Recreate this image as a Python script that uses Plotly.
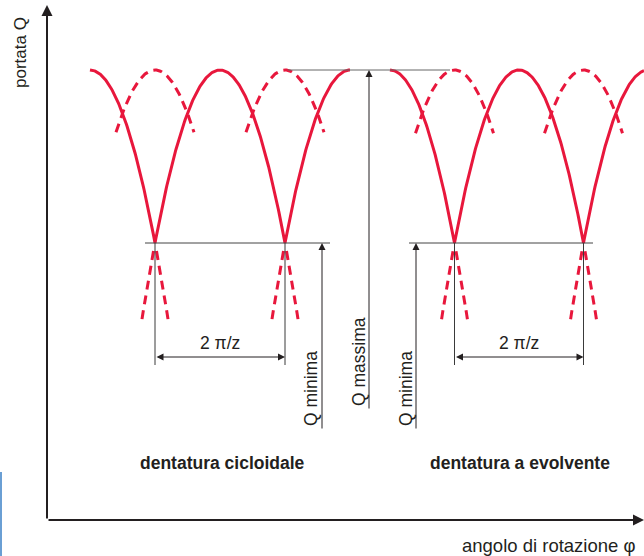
import numpy as np
import plotly.graph_objects as go

# ---- data (plot units: 1 unit of angle / flow, origin at the axes corner) ----
Q_MAX = 450          # portata massima
Q_MIN = 277          # portata minima
cyc_crests = [43, 173, 303]        # crests of the cycloidal delivery curve
cyc_cusps = [108, 238]             # minima (cusps), 2 pi/z apart
evo_crests = [343, 472, 601]       # crests of the involute delivery curve
evo_cusps = [407.5, 536.5]
cyc_range = [43, 303]
evo_range = [343, 597]
top_dash_half = 39                 # half width of dashed single-tooth arcs drawn at top
below_dash = [1.5, 13.5]           # extension of arcs below the minimum line
labels_bottom = ["dentatura cicloidale", "dentatura a evolvente"]

RED = "#e8173c"
INK = "#231f20"
THIN = "#3a3a3a"
FONT = "Liberation Sans, Arial, sans-serif"

X_RANGE = [-47, 597]
Y_RANGE = [-36, 520]


def arch(x, crest, half):
    return Q_MAX - (Q_MAX - Q_MIN) * ((x - crest) / half) ** 2


fig = go.Figure()


def solid_curve(crests, xr):
    half = (crests[1] - crests[0]) / 2.0
    cusps = [(a + b) / 2.0 for a, b in zip(crests[:-1], crests[1:])]
    xs = np.unique(np.concatenate([np.linspace(xr[0], xr[1], 400), cusps]))
    xs = xs[(xs >= xr[0]) & (xs <= xr[1])]
    ys = []
    for x in xs:
        c = min(crests, key=lambda cc: abs(cc - x))
        ys.append(arch(x, c, half))
    fig.add_trace(go.Scatter(x=xs, y=ys, mode="lines",
                             line=dict(color=RED, width=3),
                             hoverinfo="skip", showlegend=False))
    return half


def dashed(xs, ys):
    fig.add_trace(go.Scatter(x=xs, y=ys, mode="lines",
                             line=dict(color=RED, width=3, dash="9px,6px"),
                             hoverinfo="skip", showlegend=False))


for crests, cusps, xr in [(cyc_crests, cyc_cusps, cyc_range),
                          (evo_crests, evo_cusps, evo_range)]:
    half = solid_curve(crests, xr)
    for c in cusps:
        # dashed single-tooth arc on top
        xs = np.linspace(c - top_dash_half, c + top_dash_half, 80)
        dashed(xs, arch(xs, c, half))
        # continuations below the minimum line
        for s in (1, -1):
            t = np.linspace(below_dash[0], below_dash[1], 20)
            crest = c - s * half
            xs = c + s * t
            dashed(xs, arch(xs, crest, half))

shapes = []


def line(x0, y0, x1, y1, color=THIN, width=1):
    shapes.append(dict(type="line", x0=x0, y0=y0, x1=x1, y1=y1,
                       xref="x", yref="y", line=dict(color=color, width=width)))


# reference lines
line(241, Q_MAX, 403, Q_MAX, color="#666666")
line(98, Q_MIN, 283, Q_MIN, color="#444444")
line(362, Q_MIN, 546, Q_MIN, color="#444444")
for c in cyc_cusps + evo_cusps:
    line(c, Q_MIN, c, 155)
# left edge blue mark
line(-46, 48, -46, -36, color="#6a9fd4", width=2)

annotations = []


def arrow(x_head, y_head, x_tail, y_tail, width=1, size=1.3, both=False, color=INK):
    annotations.append(dict(x=x_head, y=y_head, ax=x_tail, ay=y_tail,
                            xref="x", yref="y", axref="x", ayref="y",
                            text="", showarrow=True, arrowhead=2,
                            arrowsize=size, arrowwidth=width, arrowcolor=color,
                            arrowside="end+start" if both else "end",
                            startarrowhead=2, startarrowsize=size,
                            standoff=0, startstandoff=0))


def text(x, y, s, size=16, bold=False, angle=0):
    annotations.append(dict(x=x, y=y, xref="x", yref="y", text=("<b>%s</b>" % s) if bold else s,
                            showarrow=False, textangle=angle,
                            font=dict(family=FONT, size=size, color=INK)))


# axes with arrows
arrow(0, 515, 0, 0, width=2, size=1.1)
arrow(597, 0, 0, 0, width=2, size=1.1)

# dimension arrows 2 pi / z
for cusps in (cyc_cusps, evo_cusps):
    arrow(cusps[1], 163, cusps[0], 163, both=True, size=1.4)
    text((cusps[0] + cusps[1]) / 2, 177, "2 \u03c0/z", size=17.5)

# Q minima / Q massima arrows
arrow(275, Q_MIN, 275, 90, size=1.4)
arrow(322, Q_MAX, 322, 110, size=1.4)
arrow(369, Q_MIN, 369, 90, size=1.4)
text(264, 131, "Q minima", size=17.5, angle=-90)
text(312, 158, "Q massima", size=17.5, angle=-90)
text(359, 131, "Q minima", size=17.5, angle=-90)

# labels
text(175.5, 57, labels_bottom[0], size=17.5, bold=True)
text(473, 57, labels_bottom[1], size=17.5, bold=True)
text(501, -25, "angolo di rotazione \u03c6", size=18.5)
text(-27, 467, "portata Q", size=17, angle=-90)

fig.update_layout(
    width=644, height=556, autosize=False,
    margin=dict(l=0, r=0, t=0, b=0, pad=0),
    paper_bgcolor="white", plot_bgcolor="white",
    xaxis=dict(range=X_RANGE, visible=False, fixedrange=True),
    yaxis=dict(range=Y_RANGE, visible=False, fixedrange=True),
    shapes=shapes, annotations=annotations, showlegend=False,
)

fig.write_html("out.html")
